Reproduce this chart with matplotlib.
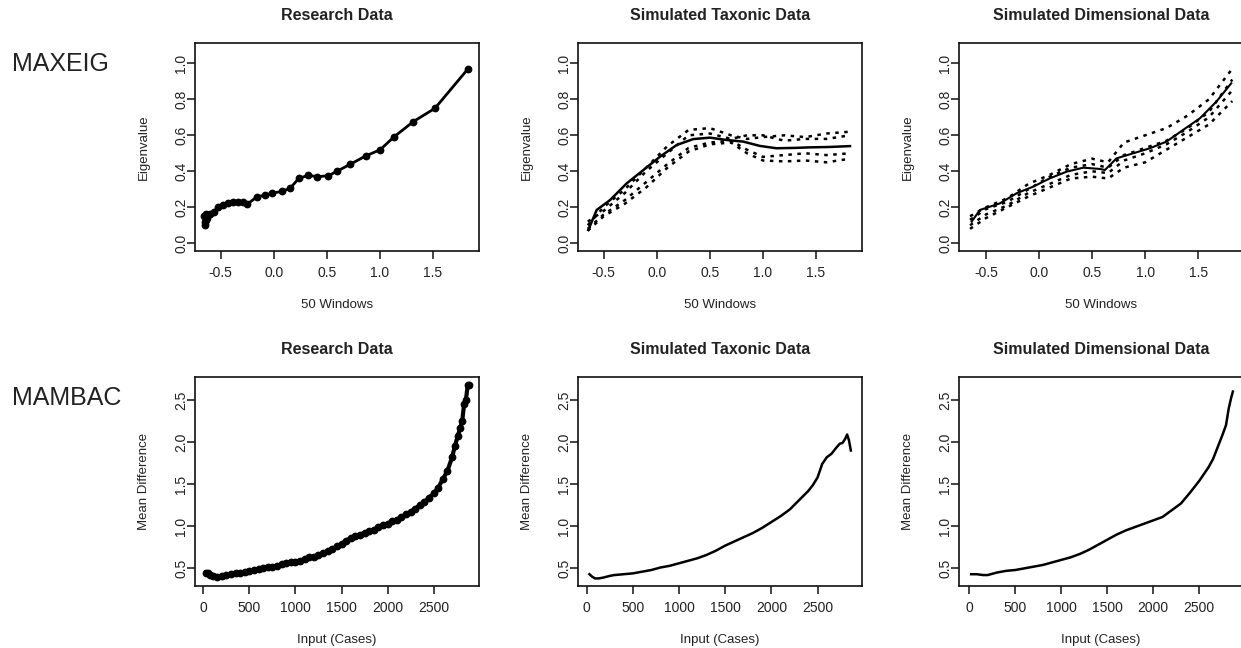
import matplotlib
matplotlib.use("Agg")
import matplotlib.pyplot as plt

plt.rcParams['font.family'] = ['Liberation Sans', 'DejaVu Sans']

# ---------------- data ----------------
# MAXEIG, research data (window centres, eigenvalues)
mx_res_x = [-0.655, -0.650, -0.645, -0.640, -0.635, -0.625, -0.60, -0.563, -0.53, -0.476,
            -0.43, -0.38, -0.334, -0.287, -0.25, -0.16, -0.085, -0.02, 0.074, 0.153,
            0.235, 0.325, 0.41, 0.513, 0.595, 0.72, 0.865, 1.003, 1.13, 1.314, 1.518, 1.826]
mx_res_y = [0.15, 0.12, 0.10, 0.16, 0.13, 0.14, 0.16, 0.175, 0.20, 0.215,
            0.222, 0.228, 0.228, 0.228, 0.217, 0.258, 0.267, 0.278, 0.288, 0.305,
            0.36, 0.378, 0.37, 0.375, 0.40, 0.439, 0.485, 0.52, 0.59, 0.676, 0.75, 0.967]

# MAXEIG, simulated taxonic data (solid = average, dotted = replications)
mx_tax_x = [-0.645, -0.566, -0.44, -0.283, -0.126, 0.03, 0.187, 0.344, 0.5, 0.658,
            0.814, 0.971, 1.128, 1.30, 1.442, 1.62, 1.82]
mx_tax_y = [0.074, 0.185, 0.24, 0.333, 0.407, 0.481, 0.546, 0.579, 0.587, 0.574,
            0.565, 0.541, 0.528, 0.530, 0.533, 0.535, 0.54]
mx_tax_rep_x = [-0.65, -0.5, -0.3, -0.1, 0.1, 0.3, 0.5, 0.7, 0.85, 1.0, 1.2, 1.4, 1.6, 1.82]
mx_tax_rep1 = [0.10, 0.20, 0.30, 0.42, 0.54, 0.63, 0.64, 0.60, 0.58, 0.59, 0.60, 0.59, 0.61, 0.62]
mx_tax_rep2 = [0.12, 0.18, 0.28, 0.40, 0.50, 0.60, 0.61, 0.58, 0.60, 0.60, 0.57, 0.58, 0.58, 0.60]
mx_tax_rep3 = [0.08, 0.16, 0.24, 0.34, 0.44, 0.53, 0.56, 0.57, 0.52, 0.48, 0.49, 0.50, 0.49, 0.50]
mx_tax_rep4 = [0.07, 0.15, 0.22, 0.31, 0.42, 0.51, 0.55, 0.56, 0.50, 0.46, 0.455, 0.46, 0.45, 0.47]

# MAXEIG, simulated dimensional data
mx_dim_x = [-0.635, -0.557, -0.368, -0.211, -0.054, 0.103, 0.26, 0.417, 0.574, 0.62,
            0.73, 0.887, 1.044, 1.2, 1.357, 1.514, 1.67, 1.81]
mx_dim_y = [0.12, 0.185, 0.222, 0.278, 0.315, 0.361, 0.398, 0.42, 0.413, 0.407,
            0.472, 0.50, 0.528, 0.565, 0.63, 0.694, 0.787, 0.889]
mx_dim_rep_x = [-0.65, -0.5, -0.3, -0.1, 0.1, 0.3, 0.5, 0.65, 0.8, 1.0, 1.2, 1.4, 1.6, 1.82]
mx_dim_rep1 = [0.15, 0.20, 0.25, 0.33, 0.38, 0.44, 0.47, 0.45, 0.56, 0.60, 0.64, 0.71, 0.80, 0.97]
mx_dim_rep2 = [0.13, 0.19, 0.23, 0.30, 0.37, 0.42, 0.44, 0.42, 0.49, 0.53, 0.57, 0.64, 0.73, 0.91]
mx_dim_rep3 = [0.10, 0.16, 0.21, 0.28, 0.33, 0.38, 0.40, 0.39, 0.46, 0.50, 0.55, 0.62, 0.70, 0.85]
mx_dim_rep4 = [0.08, 0.14, 0.20, 0.26, 0.31, 0.36, 0.37, 0.36, 0.42, 0.45, 0.52, 0.59, 0.66, 0.79]

# MAMBAC, research data
mb_res_x = [25, 50, 75, 100, 150, 200, 250, 300, 350, 400, 450, 500, 550, 600, 650, 700, 750,
            800, 850, 900, 950, 1000, 1050, 1100, 1150, 1200, 1250, 1300, 1350, 1400, 1450,
            1500, 1550, 1600, 1650, 1700, 1750, 1800, 1850, 1900, 1950, 2000, 2050, 2100,
            2150, 2200, 2250, 2300, 2350, 2400, 2450, 2500, 2550, 2600, 2650, 2700, 2730,
            2760, 2790, 2810, 2830, 2850, 2870, 2880]
mb_res_y = [0.45, 0.44, 0.42, 0.41, 0.40, 0.41, 0.42, 0.43, 0.44, 0.45, 0.46, 0.47, 0.48,
            0.49, 0.50, 0.51, 0.52, 0.53, 0.55, 0.56, 0.57, 0.58, 0.59, 0.61, 0.63, 0.64,
            0.66, 0.68, 0.70, 0.73, 0.76, 0.79, 0.83, 0.86, 0.88, 0.90, 0.92, 0.94, 0.96,
            0.99, 1.01, 1.03, 1.06, 1.08, 1.11, 1.14, 1.17, 1.21, 1.25, 1.29, 1.34, 1.39,
            1.46, 1.56, 1.66, 1.82, 1.95, 2.07, 2.17, 2.25, 2.45, 2.50, 2.68, 2.68]

# MAMBAC, simulated taxonic data
mb_tax_x = [30, 60, 90, 130, 180, 250, 300, 400, 500, 600, 700, 800, 900, 1000, 1100, 1200,
            1300, 1400, 1500, 1600, 1700, 1800, 1900, 2000, 2100, 2200, 2300, 2400, 2450,
            2500, 2550, 2600, 2650, 2700, 2740, 2770, 2800, 2820, 2840, 2860]
mb_tax_y = [0.43, 0.40, 0.38, 0.38, 0.39, 0.41, 0.42, 0.43, 0.44, 0.46, 0.48, 0.51, 0.53,
            0.56, 0.59, 0.62, 0.66, 0.71, 0.77, 0.82, 0.87, 0.92, 0.98, 1.05, 1.12, 1.20,
            1.31, 1.42, 1.49, 1.58, 1.74, 1.82, 1.86, 1.93, 1.98, 1.99, 2.04, 2.09, 2.02, 1.90]

# MAMBAC, simulated dimensional data
mb_dim_x = [20, 80, 150, 200, 300, 400, 500, 600, 700, 800, 900, 1000, 1100, 1200, 1300,
            1400, 1500, 1600, 1700, 1800, 1900, 2000, 2100, 2200, 2300, 2400, 2450, 2500,
            2550, 2600, 2650, 2700, 2750, 2790, 2820, 2845, 2865]
mb_dim_y = [0.43, 0.43, 0.42, 0.42, 0.45, 0.47, 0.48, 0.50, 0.52, 0.54, 0.57, 0.60, 0.63,
            0.67, 0.72, 0.78, 0.84, 0.90, 0.95, 0.99, 1.03, 1.07, 1.11, 1.19, 1.27, 1.40,
            1.47, 1.54, 1.62, 1.70, 1.80, 1.94, 2.08, 2.20, 2.40, 2.52, 2.60]

titles = ["Research Data", "Simulated Taxonic Data", "Simulated Dimensional Data"]
row_labels = ["MAXEIG", "MAMBAC"]
mx_xticks = [-0.5, 0.0, 0.5, 1.0, 1.5]
mx_yticks = [0.0, 0.2, 0.4, 0.6, 0.8, 1.0]
mb_xticks = [0, 500, 1000, 1500, 2000, 2500]
mb_yticks = [0.5, 1.0, 1.5, 2.0, 2.5]

# ---------------- figure ----------------
W, H = 1241, 648
fig = plt.figure(figsize=(W / 100, H / 100), dpi=100)
TXT = '#222222'

lefts = [195, 578, 959]
pw = 284
rows = [(43, 251), (377, 586)]

def make_ax(col, row):
    top, bot = rows[row]
    ax = fig.add_axes([lefts[col] / W, (H - bot) / H, pw / W, (bot - top) / H])
    for s in ax.spines.values():
        s.set_linewidth(1.2)
        s.set_color('#111111')
    ax.tick_params(direction='out', length=6, width=1.1, colors='#111111',
                   labelsize=10, labelcolor=TXT, pad=5)
    ax.tick_params(axis='y', labelrotation=90, pad=4)
    ax.set_title(titles[col], fontsize=11.5, fontweight='bold', color=TXT,
                 y=1 + 28 / (bot - top), va='center', pad=0)
    return ax, (bot - top)

def finish_labels(ax, h, xlabel, ylabel):
    ax.set_xlabel(xlabel, fontsize=9.5, color=TXT)
    ax.set_ylabel(ylabel, fontsize=9.5, color=TXT)
    ax.xaxis.set_label_coords(0.5, -54 / h)
    ax.xaxis.label.set_va('center')
    ax.yaxis.set_label_coords(-51 / pw, 0.5)
    ax.yaxis.label.set_va('center')
    for lab in ax.get_yticklabels():
        lab.set_va('center')
        lab.set_ha('center')

dot = (0, (1.4, 2.2))

# Row 1: MAXEIG
mx_xlims = [(-0.742, 1.933), (-0.742, 1.933), (-0.754, 1.921)]
for col in range(3):
    ax, h = make_ax(col, 0)
    if col == 0:
        ax.plot(mx_res_x, mx_res_y, '-o', color='black', lw=2.0, ms=4.6)
    elif col == 1:
        for rep in (mx_tax_rep1, mx_tax_rep2, mx_tax_rep3, mx_tax_rep4):
            ax.plot(mx_tax_rep_x, rep, color='black', lw=1.8, ls=dot)
        ax.plot(mx_tax_x, mx_tax_y, color='black', lw=1.8)
    else:
        for rep in (mx_dim_rep1, mx_dim_rep2, mx_dim_rep3, mx_dim_rep4):
            ax.plot(mx_dim_rep_x, rep, color='black', lw=1.8, ls=dot)
        ax.plot(mx_dim_x, mx_dim_y, color='black', lw=1.5)
    ax.set_xlim(*mx_xlims[col])
    ax.set_ylim(-0.043, 1.113)
    ax.set_xticks(mx_xticks)
    ax.set_yticks(mx_yticks)
    ax.set_xticklabels([f"{v:.1f}" for v in mx_xticks])
    ax.set_yticklabels([f"{v:.1f}" for v in mx_yticks])
    finish_labels(ax, h, "50 Windows", "Eigenvalue")

# Row 2: MAMBAC
mb_xlims = [(-90, 2992), (-94, 2981), (-112, 2975)]
for col in range(3):
    ax, h = make_ax(col, 1)
    if col == 0:
        ax.plot(mb_res_x, mb_res_y, '-o', color='black', lw=3.0, ms=4.6)
    elif col == 1:
        ax.plot(mb_tax_x, mb_tax_y, color='black', lw=1.8)
    else:
        ax.plot(mb_dim_x, mb_dim_y, color='black', lw=1.8)
    ax.set_xlim(*mb_xlims[col])
    ax.set_ylim(0.29, 2.773)
    ax.set_xticks(mb_xticks)
    ax.set_yticks(mb_yticks)
    ax.set_xticklabels([str(v) for v in mb_xticks])
    ax.set_yticklabels([f"{v:.1f}" for v in mb_yticks])
    finish_labels(ax, h, "Input (Cases)", "Mean Difference")

fig.text(12 / W, 1 - 64 / H, row_labels[0], fontsize=18, color=TXT, ha='left', va='center')
fig.text(12 / W, 1 - 398 / H, row_labels[1], fontsize=18, color=TXT, ha='left', va='center')

fig.savefig("out.png", dpi=100)
